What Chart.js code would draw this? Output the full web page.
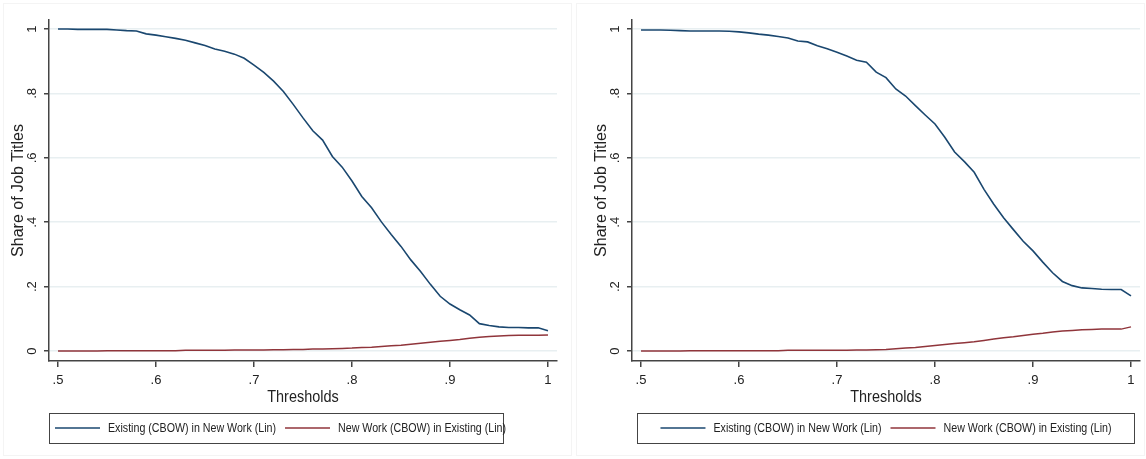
<!DOCTYPE html>
<html>
<head>
<meta charset="utf-8">
<title>Share of Job Titles by Threshold</title>
<script src="https://cdn.jsdelivr.net/npm/chart.js@4"></script>
<style>
  body { margin: 0; background: #fff; }
  #wrap { display: flex; width: 1146px; height: 459px; }
  canvas { display: block; }
</style>
</head>
<body>
<div id="wrap">
  <canvas id="leftChart" width="573" height="459"></canvas>
  <canvas id="rightChart" width="573" height="459"></canvas>
</div>
<script>
const thresholds = [0.50, 0.51, 0.52, 0.53, 0.54, 0.55, 0.56, 0.57, 0.58, 0.59,
  0.60, 0.61, 0.62, 0.63, 0.64, 0.65, 0.66, 0.67, 0.68, 0.69,
  0.70, 0.71, 0.72, 0.73, 0.74, 0.75, 0.76, 0.77, 0.78, 0.79,
  0.80, 0.81, 0.82, 0.83, 0.84, 0.85, 0.86, 0.87, 0.88, 0.89,
  0.90, 0.91, 0.92, 0.93, 0.94, 0.95, 0.96, 0.97, 0.98, 0.99, 1.00];

// left panel
const leftExisting = [1.000, 1.000, 0.999, 0.999, 0.999, 0.999, 0.997, 0.995, 0.994, 0.985,
  0.981, 0.976, 0.971, 0.965, 0.957, 0.949, 0.938, 0.931, 0.922, 0.909,
  0.888, 0.865, 0.838, 0.806, 0.766, 0.724, 0.684, 0.655, 0.604, 0.571,
  0.528, 0.480, 0.445, 0.401, 0.362, 0.325, 0.283, 0.247, 0.207, 0.170,
  0.146, 0.128, 0.112, 0.085, 0.079, 0.075, 0.073, 0.073, 0.072, 0.072, 0.063];
const leftNew = [0.000, 0.000, 0.000, 0.000, 0.000, 0.001, 0.001, 0.001, 0.001, 0.001,
  0.001, 0.001, 0.001, 0.002, 0.002, 0.002, 0.002, 0.002, 0.003, 0.003,
  0.003, 0.003, 0.004, 0.004, 0.005, 0.005, 0.006, 0.006, 0.007, 0.008,
  0.009, 0.011, 0.012, 0.014, 0.016, 0.018, 0.021, 0.024, 0.027, 0.030,
  0.033, 0.036, 0.040, 0.043, 0.045, 0.047, 0.048, 0.049, 0.049, 0.049, 0.050];

// right panel
const rightExisting = [0.997, 0.997, 0.997, 0.996, 0.995, 0.994, 0.994, 0.994, 0.994, 0.993,
  0.991, 0.988, 0.984, 0.981, 0.977, 0.972, 0.963, 0.960, 0.948, 0.939,
  0.928, 0.916, 0.903, 0.897, 0.866, 0.849, 0.814, 0.792, 0.762, 0.733,
  0.705, 0.664, 0.618, 0.588, 0.555, 0.502, 0.456, 0.414, 0.377, 0.341,
  0.311, 0.276, 0.243, 0.216, 0.203, 0.196, 0.194, 0.192, 0.191, 0.191, 0.171];
const rightNew = [0.000, 0.000, 0.000, 0.000, 0.000, 0.001, 0.001, 0.001, 0.001, 0.001,
  0.001, 0.001, 0.001, 0.001, 0.001, 0.002, 0.002, 0.002, 0.002, 0.002,
  0.002, 0.002, 0.003, 0.003, 0.004, 0.005, 0.007, 0.009, 0.011, 0.014,
  0.017, 0.020, 0.023, 0.026, 0.029, 0.033, 0.037, 0.041, 0.044, 0.048,
  0.052, 0.055, 0.059, 0.062, 0.064, 0.066, 0.067, 0.068, 0.068, 0.068, 0.075];

const seriesLabels = ["Existing (CBOW) in New Work (Lin)", "New Work (CBOW) in Existing (Lin)"];
const xTickValues = [0.5, 0.6, 0.7, 0.8, 0.9, 1];
const yTickValues = [0, 0.2, 0.4, 0.6, 0.8, 1];
const xTitle = "Thresholds";
const yTitle = "Share of Job Titles";

const blue = "#1a476f";
const red = "#90353b";
const FONT = '"Liberation Sans", Arial, sans-serif';

function fmtTick(v) {
  if (v === 0) return "0";
  if (v === 1) return "1";
  return String(v).replace(/^0\./, ".");
}

function toPoints(values) {
  return thresholds.map((t, i) => ({ x: t, y: values[i] }));
}

// draws the Stata-like pieces: rotated y labels, axis titles, boxed legend
const stataDeco = {
  id: "stataDeco",
  afterDraw(chart, args, opts) {
    const { ctx, chartArea } = chart;
    const yScale = chart.scales.y;
    ctx.save();

    // faint graph region border
    ctx.strokeStyle = "#f4f4f4";
    ctx.lineWidth = 1;
    ctx.strokeRect(3.5, 3.5, chart.width - 5, chart.height - 7);

    // y tick labels, rotated
    ctx.fillStyle = "#222";
    ctx.font = "13px " + FONT;
    ctx.textAlign = "center";
    ctx.textBaseline = "middle";
    yScale.ticks.forEach((t) => {
      const py = yScale.getPixelForValue(t.value);
      ctx.save();
      ctx.translate(chartArea.left - 17, py);
      ctx.rotate(-Math.PI / 2);
      ctx.fillText(fmtTick(t.value), 0, 0);
      ctx.restore();
    });

    // y title
    ctx.font = "16px " + FONT;
    ctx.save();
    ctx.translate(chartArea.left - 30, (chartArea.top + chartArea.bottom) / 2);
    ctx.rotate(-Math.PI / 2);
    ctx.fillText(yTitle, 0, 0);
    ctx.restore();

    // x title (squeezed horizontally like the original)
    ctx.font = "17px " + FONT;
    ctx.textBaseline = "alphabetic";
    ctx.save();
    ctx.translate((chartArea.left + chartArea.right) / 2, chartArea.bottom + 41);
    ctx.scale(0.85, 1);
    ctx.fillText(xTitle, 0, 0);
    ctx.restore();

    // legend
    const sq = 0.82;
    const sample = 45;
    const gap = 8;
    const itemGap = 9;
    ctx.font = "13px " + FONT;
    const items = chart.data.datasets.map((ds) => ({
      label: ds.label,
      color: ds.borderColor,
      w: ctx.measureText(ds.label).width * sq
    }));
    let content = 0;
    items.forEach((it, i) => {
      content += sample + gap + it.w + (i < items.length - 1 ? itemGap : 0);
    });
    const boxW = content + opts.pad * 2 - opts.trim;
    const boxH = 30;
    const boxTop = chartArea.bottom + 52;
    const boxLeft = opts.align === "start"
      ? chartArea.left
      : (chartArea.left + chartArea.right) / 2 - boxW / 2;
    const cy = boxTop + boxH / 2;

    ctx.strokeStyle = "#444";
    ctx.lineWidth = 1;
    ctx.strokeRect(Math.round(boxLeft) + 0.5, boxTop + 0.5, Math.round(boxW), boxH);

    let cx = boxLeft + opts.pad;
    ctx.textAlign = "left";
    ctx.textBaseline = "middle";
    ctx.fillStyle = "#222";
    items.forEach((it) => {
      ctx.strokeStyle = it.color;
      ctx.lineWidth = 1.6;
      ctx.beginPath();
      ctx.moveTo(cx, cy);
      ctx.lineTo(cx + sample, cy);
      ctx.stroke();
      cx += sample + gap;
      ctx.save();
      ctx.translate(cx, cy);
      ctx.scale(sq, 1);
      ctx.fillText(it.label, 0, 0);
      ctx.restore();
      cx += it.w + itemGap;
    });

    ctx.restore();
  }
};

function makePanel(canvasId, existing, newWork, axisWidth, rightPad, legendOpts) {
  return new Chart(document.getElementById(canvasId), {
    type: "line",
    data: {
      datasets: [
        {
          label: seriesLabels[0],
          data: toPoints(existing),
          borderColor: blue,
          borderWidth: 1.6,
          pointRadius: 0,
          tension: 0
        },
        {
          label: seriesLabels[1],
          data: toPoints(newWork),
          borderColor: red,
          borderWidth: 1.5,
          pointRadius: 0,
          tension: 0
        }
      ]
    },
    options: {
      responsive: false,
      animation: false,
      layout: { padding: { top: 20, right: rightPad, bottom: 0, left: 0 } },
      plugins: {
        legend: { display: false },
        tooltip: { enabled: false },
        stataDeco: legendOpts
      },
      scales: {
        x: {
          type: "linear",
          min: 0.4908,
          max: 1.0092,
          afterBuildTicks: (s) => { s.ticks = xTickValues.map((v) => ({ value: v })); },
          afterFit: (s) => { s.height = 98; },
          grid: { color: "transparent", tickColor: "#444", tickLength: 6, lineWidth: 1.5 },
          border: { color: "#444", width: 1.5 },
          ticks: {
            color: "#222",
            font: { family: FONT, size: 13 },
            padding: 6,
            maxRotation: 0,
            autoSkip: false,
            callback: (v) => fmtTick(v)
          }
        },
        y: {
          min: -0.031,
          max: 1.028,
          afterBuildTicks: (s) => { s.ticks = yTickValues.map((v) => ({ value: v })); },
          afterFit: (s) => { s.width = axisWidth; },
          grid: { color: "#e8eff1", tickColor: "#444", tickLength: 5, lineWidth: 1.5 },
          border: { color: "#444", width: 1.5 },
          ticks: { display: false }
        }
      }
    },
    plugins: [stataDeco]
  });
}

makePanel("leftChart", leftExisting, leftNew, 49, 16, { align: "start", pad: 6, trim: 9 });
makePanel("rightChart", rightExisting, rightNew, 59, 6, { align: "center", pad: 23, trim: 0 });
</script>
</body>
</html>
